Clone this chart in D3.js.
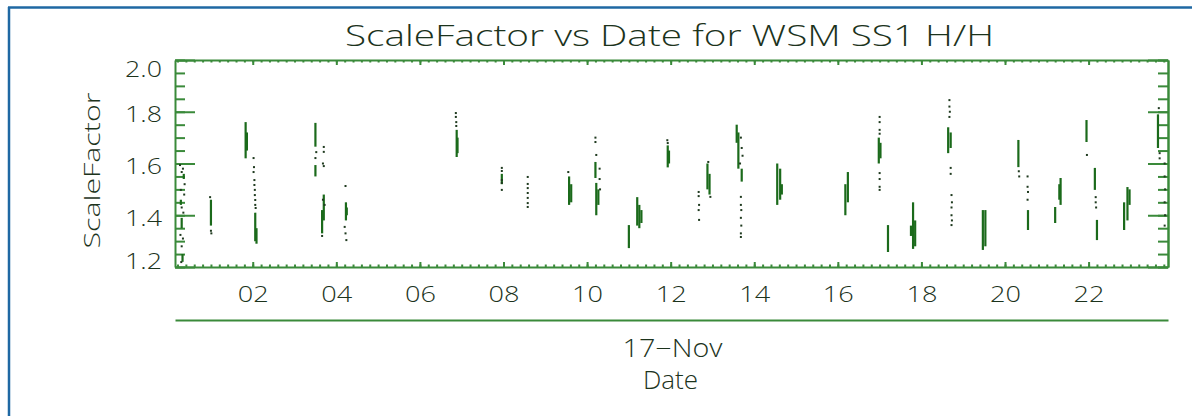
<!DOCTYPE html>
<html>
<head>
<meta charset="utf-8">
<script src="https://cdn.jsdelivr.net/npm/d3@7/dist/d3.min.js"></script>
<style>
  html, body { margin: 0; padding: 0; background: #ffffff; }
  svg { display: block; }
  text { font-family: "Open Sans", "DejaVu Sans", sans-serif; font-weight: 300; }
</style>
</head>
<body>
<svg id="chart" width="1192" height="416"></svg>
<script>
// ---------------- data ----------------
const titleText = "ScaleFactor vs Date for WSM SS1 H/H";
const yAxisTitle = "ScaleFactor";
const dateLabel = "17\u2212Nov";
const xAxisTitle = "Date";

// y tick values and labels
const yMajorTicks = [1.2, 1.4, 1.6, 1.8, 2.0];
const yTickLabels = ["1.2", "1.4", "1.6", "1.8", "2.0"];
// x (hour of day) major ticks and labels
const xMajorHours = [2, 4, 6, 8, 10, 12, 14, 16, 18, 20, 22];
const xTickLabels = ["02", "04", "06", "08", "10", "12", "14", "16", "18", "20", "22"];
// visible hour range of the axis
const hourRange = [0.14, 23.9];

// solid streaks: [hour, low value, high value]
const streaks = [
  [0.30, 1.35, 1.39], [0.28, 1.44, 1.46], [0.35, 1.54, 1.56], [0.32, 1.22, 1.25],
  [1.00, 1.36, 1.46],
  [1.83, 1.62, 1.76], [1.86, 1.65, 1.72], [2.06, 1.30, 1.41], [2.09, 1.29, 1.35],
  [3.50, 1.665, 1.757], [3.50, 1.55, 1.594], [3.66, 1.33, 1.42], [3.70, 1.38, 1.48],
  [4.23, 1.38, 1.45], [4.25, 1.40, 1.43],
  [6.88, 1.625, 1.73], [6.90, 1.64, 1.70],
  [7.96, 1.52, 1.56],
  [9.57, 1.44, 1.55], [9.62, 1.45, 1.52],
  [10.20, 1.544, 1.606], [10.22, 1.40, 1.525], [10.27, 1.44, 1.50],
  [11.00, 1.273, 1.362],
  [11.20, 1.36, 1.47], [11.25, 1.35, 1.44], [11.30, 1.37, 1.42],
  [11.93, 1.585, 1.67], [11.96, 1.60, 1.65],
  [12.88, 1.50, 1.60], [12.93, 1.48, 1.56],
  [13.58, 1.68, 1.75], [13.62, 1.58, 1.72], [13.70, 1.53, 1.58],
  [14.55, 1.44, 1.60], [14.62, 1.46, 1.58], [14.66, 1.48, 1.52],
  [16.18, 1.40, 1.52], [16.24, 1.45, 1.567],
  [16.98, 1.60, 1.70], [17.02, 1.62, 1.68],
  [17.20, 1.258, 1.362],
  [17.80, 1.27, 1.45], [17.85, 1.28, 1.38], [17.75, 1.32, 1.36],
  [18.64, 1.64, 1.74], [18.70, 1.66, 1.72],
  [19.47, 1.266, 1.42], [19.53, 1.28, 1.42],
  [20.32, 1.586, 1.691],
  [20.55, 1.343, 1.42],
  [21.20, 1.37, 1.432], [21.33, 1.44, 1.544], [21.30, 1.46, 1.52],
  [21.95, 1.683, 1.768],
  [22.15, 1.498, 1.583], [22.20, 1.304, 1.382],
  [22.85, 1.343, 1.45], [22.93, 1.38, 1.509], [22.98, 1.44, 1.50],
  [23.66, 1.66, 1.79]
];

// isolated samples: [hour, value]
const samples = [
  [0.26, 1.594], [0.33, 1.58], [0.30, 1.567], [0.37, 1.52], [0.28, 1.498], [0.36, 1.48],
  [0.30, 1.43], [0.34, 1.41], [0.27, 1.324], [0.33, 1.31], [0.30, 1.28], [0.29, 1.219],
  [0.98, 1.47], [1.00, 1.34], [1.01, 1.33],
  [2.02, 1.621], [2.03, 1.586], [2.02, 1.567], [2.04, 1.536], [2.04, 1.517], [2.05, 1.498],
  [2.05, 1.478], [2.06, 1.459], [2.06, 1.44], [2.07, 1.428],
  [3.52, 1.644], [3.50, 1.621], [3.70, 1.664], [3.70, 1.645], [3.68, 1.60], [3.70, 1.59],
  [3.68, 1.46], [3.72, 1.44], [3.66, 1.32],
  [4.22, 1.513], [4.20, 1.355], [4.22, 1.33], [4.24, 1.304],
  [6.86, 1.795], [6.86, 1.78], [6.87, 1.76], [6.87, 1.745],
  [7.96, 1.583], [7.96, 1.571], [7.96, 1.536], [7.96, 1.525], [7.96, 1.498],
  [8.58, 1.548], [8.58, 1.521], [8.58, 1.505], [8.58, 1.486], [8.58, 1.467], [8.58, 1.447], [8.58, 1.432],
  [9.55, 1.567],
  [10.20, 1.70], [10.20, 1.683], [10.22, 1.633], [10.30, 1.58], [10.30, 1.54], [10.31, 1.50],
  [11.92, 1.69], [11.93, 1.679],
  [12.67, 1.49], [12.67, 1.474], [12.68, 1.44], [12.67, 1.42], [12.68, 1.382],
  [12.90, 1.606], [12.95, 1.471],
  [13.68, 1.70], [13.70, 1.66], [13.72, 1.63], [13.66, 1.60],
  [13.68, 1.471], [13.68, 1.44], [13.69, 1.42], [13.68, 1.39], [13.69, 1.36], [13.68, 1.33], [13.68, 1.316],
  [17.00, 1.78], [17.00, 1.76], [17.00, 1.73], [17.00, 1.715],
  [17.00, 1.563], [17.00, 1.54], [17.00, 1.51], [17.00, 1.498],
  [18.67, 1.845], [18.67, 1.82], [18.68, 1.80], [18.67, 1.78], [18.70, 1.583], [18.70, 1.56],
  [18.72, 1.478], [18.73, 1.45], [18.72, 1.43], [18.72, 1.40], [18.73, 1.38], [18.72, 1.362],
  [20.33, 1.57], [20.34, 1.55],
  [20.54, 1.55], [20.54, 1.51], [20.55, 1.49], [20.54, 1.46],
  [21.96, 1.633],
  [22.17, 1.47], [22.17, 1.45], [22.18, 1.43],
  [23.68, 1.814], [23.70, 1.64], [23.70, 1.62],
  [23.82, 1.60], [23.82, 1.55], [23.83, 1.50], [23.82, 1.45], [23.83, 1.40], [23.82, 1.36]
];

// ---------------- layout & style ----------------
const W = 1192, H = 416;
const plot = { left: 175, right: 1168, top: 60, bottom: 267 };
const axisColor = "#3a8a3a";
const textColor = "#1c331c";
const dataColor = "#1b6a1b";
const dotColor = "#1f3a1f";
const frameColor = "#1f68a3";
const fontFamily = "'Open Sans', 'DejaVu Sans', sans-serif";

const svg = d3.select("#chart");

// outer frame (left and top edge)
svg.append("line").attr("x1", 9).attr("x2", 9).attr("y1", 7).attr("y2", H)
  .attr("stroke", frameColor).attr("stroke-width", 2.5);
svg.append("line").attr("x1", 8).attr("x2", W).attr("y1", 7.5).attr("y2", 7.5)
  .attr("stroke", frameColor).attr("stroke-width", 2.5);

const x = d3.scaleLinear().domain(hourRange).range([plot.left, plot.right]);
const y = d3.scaleLinear().domain([1.2, 2.0]).range([plot.bottom, plot.top]);

const yMinor = d3.range(1.2, 2.0001, 0.05).map(v => +v.toFixed(2));
const xMinor = d3.range(0.2, 23.9, 0.2).map(v => +v.toFixed(1));

function styleAxis(g) {
  g.selectAll("path, line").attr("stroke", axisColor).attr("stroke-width", 2);
  g.selectAll("text").attr("fill", textColor).attr("font-family", fontFamily)
    .attr("font-weight", 300);
}

// Left axis: minor ticks, major ticks with labels
svg.append("g").attr("transform", `translate(${plot.left},0)`)
  .call(d3.axisLeft(y).tickValues(yMinor).tickSize(-10).tickSizeOuter(0).tickFormat(""))
  .call(styleAxis);
const leftMajor = svg.append("g").attr("transform", `translate(${plot.left},0)`)
  .call(d3.axisLeft(y).tickValues(yMajorTicks).tickSize(-20).tickSizeOuter(0)
    .tickPadding(13).tickFormat((d, i) => yTickLabels[i]))
  .call(styleAxis);
leftMajor.select(".domain").remove();
leftMajor.selectAll("text").attr("font-size", 22)
  .attr("textLength", 37).attr("lengthAdjust", "spacingAndGlyphs")
  .attr("dy", (d) => {
    if (d === 2.0) return "0.75em";
    if (d === 1.2) return "0.05em";
    return "0.45em";
  });

// Right axis
svg.append("g").attr("transform", `translate(${plot.right},0)`)
  .call(d3.axisRight(y).tickValues(yMinor).tickSize(-10).tickSizeOuter(0).tickFormat(""))
  .call(styleAxis);
svg.append("g").attr("transform", `translate(${plot.right},0)`)
  .call(d3.axisRight(y).tickValues(yMajorTicks).tickSize(-20).tickSizeOuter(0).tickFormat(""))
  .call(styleAxis);

// Bottom axis
svg.append("g").attr("transform", `translate(0,${plot.bottom})`)
  .call(d3.axisBottom(x).tickValues(xMinor).tickSize(-2.5).tickSizeOuter(0).tickFormat(""))
  .call(styleAxis);
const bottomMajor = svg.append("g").attr("transform", `translate(0,${plot.bottom})`)
  .call(d3.axisBottom(x).tickValues(xMajorHours).tickSize(-5).tickSizeOuter(0)
    .tickPadding(19).tickFormat((d, i) => xTickLabels[i]))
  .call(styleAxis);
bottomMajor.select(".domain").remove();
bottomMajor.selectAll("text").attr("font-size", 22)
  .attr("textLength", 31).attr("lengthAdjust", "spacingAndGlyphs");

// Top axis
svg.append("g").attr("transform", `translate(0,${plot.top})`)
  .call(d3.axisTop(x).tickValues(xMinor).tickSize(-2.5).tickSizeOuter(0).tickFormat(""))
  .call(styleAxis);
svg.append("g").attr("transform", `translate(0,${plot.top})`)
  .call(d3.axisTop(x).tickValues(xMajorHours).tickSize(-5).tickSizeOuter(0).tickFormat(""))
  .call(styleAxis)
  .select(".domain").remove();

// Secondary (date) axis line
svg.append("g").attr("transform", `translate(0,320)`)
  .call(d3.axisBottom(x).tickValues([]).tickSizeOuter(0))
  .call(styleAxis);

// Data: streaks and samples
const dataG = svg.append("g");
dataG.selectAll("line.streak").data(streaks).join("line")
  .attr("class", "streak")
  .attr("x1", d => x(d[0])).attr("x2", d => x(d[0]))
  .attr("y1", d => y(d[1])).attr("y2", d => y(d[2]))
  .attr("stroke", dataColor).attr("stroke-width", 2.2);
dataG.selectAll("rect.sample").data(samples).join("rect")
  .attr("class", "sample")
  .attr("x", d => x(d[0]) - 1).attr("y", d => y(d[1]) - 1)
  .attr("width", 2).attr("height", 2)
  .attr("fill", dotColor);

// Titles
const cx = (plot.left + plot.right) / 2;
function titleStyle(sel) {
  sel.attr("fill", textColor).attr("font-weight", 300)
    .attr("font-family", fontFamily).attr("text-anchor", "middle")
    .attr("lengthAdjust", "spacingAndGlyphs");
}
svg.append("text").text(titleText)
  .attr("x", cx - 2).attr("y", 46)
  .attr("font-size", 29).attr("textLength", 649)
  .call(titleStyle);

svg.append("text").text(yAxisTitle)
  .attr("transform", `translate(100,${(plot.top + plot.bottom) / 2 + 7}) rotate(-90)`)
  .attr("font-size", 22).attr("textLength", 156)
  .call(titleStyle);

svg.append("text").text(dateLabel)
  .attr("x", cx + 1).attr("y", 357)
  .attr("font-size", 25).attr("textLength", 100)
  .call(titleStyle);

svg.append("text").text(xAxisTitle)
  .attr("x", cx - 1).attr("y", 389)
  .attr("font-size", 25).attr("textLength", 55)
  .call(titleStyle);
</script>
</body>
</html>
